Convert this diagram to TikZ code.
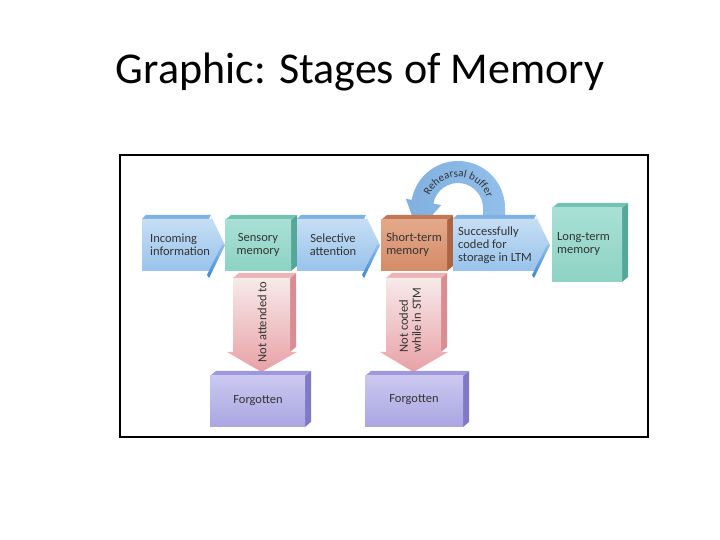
\documentclass[tikz,border=0pt]{standalone}
\usepackage{fontspec}
\setmainfont{Carlito}
\usetikzlibrary{decorations.text}

\definecolor{bluehi}{HTML}{CCE2F6}
\definecolor{bluelo}{HTML}{92BFEA}
\definecolor{bluetop}{HTML}{7FB2E3}
\definecolor{bluedark}{HTML}{3D86CF}
\definecolor{tealhi}{HTML}{A9E0D5}
\definecolor{teallo}{HTML}{8CD3C4}
\definecolor{tealtop}{HTML}{74C2B2}
\definecolor{tealside}{HTML}{55A898}
\definecolor{orangehi}{HTML}{E3A98A}
\definecolor{orangelo}{HTML}{D48B68}
\definecolor{orangetop}{HTML}{C47755}
\definecolor{orangeside}{HTML}{AE6443}
\definecolor{pinkhi}{HTML}{F7EAEA}
\definecolor{pinklo}{HTML}{E8A1A6}
\definecolor{pinkside}{HTML}{D98C92}
\definecolor{purplehi}{HTML}{CBC8F0}
\definecolor{purplelo}{HTML}{A9A5E1}
\definecolor{purpletop}{HTML}{9E99DC}
\definecolor{purpleside}{HTML}{7F79C6}

\tikzset{
  lbl/.style={font=\fontsize{12.5}{13}\selectfont, text=black!80, align=left, inner sep=0pt},
}

% 3d block: lower left (#1,#2), upper right (#3,#4), colour #5
\newcommand{\memblock}[5]{%
  \fill[#5side] (#3,#2) -- ++(6,5) -- (#3+6,#4+5) -- (#3,#4) -- cycle;
  \fill[#5top] (#1,#4) -- ++(6,5) -- (#3+6,#4+5) -- (#3,#4) -- cycle;
  \shade[top color=#5hi, bottom color=#5lo] (#1,#2) rectangle (#3,#4);
}

% flat blue arrow: body from #1 to #2, tip at #3
\newcommand{\flowarrow}[3]{%
  \fill[bluetop] (#1,321) -- (#1+4,325) -- (#2-1,325) -- (#2-3,321) -- cycle;
  \shade[top color=bluehi, bottom color=bluelo]
    (#1,269) -- (#2,269) -- (#2-3,262) -- (#3,295) -- (#2-3,328) -- (#2,321) -- (#1,321) -- cycle;
  \shade[top color=bluelo, bottom color=bluedark] (#3,295) -- (#2-3,262) -- (#2-5,265) -- (#3-3,295) -- cycle;
}

% pink arrow going down: body from #1 to #2
\newcommand{\droparrow}[2]{%
  \fill[pinkside] (#2,188) -- (#2+6,193) -- (#2+6,267) -- (#2,262) -- cycle;
  \fill[pinklo!80!white] (#1,262) -- (#1+6,267) -- (#2+6,267) -- (#2,262) -- cycle;
  \shade[top color=pinkhi, bottom color=pinklo]
    (#1,262) -- (#1,188) -- (#1-6,188) -- ({(#1+#2)/2},168) -- (#2+7,188) -- (#2,188) -- (#2,262) -- cycle;
}

\begin{document}
\begin{tikzpicture}[x=1pt,y=1pt]
\useasboundingbox (0,0) rectangle (720,540);

\node[font=\fontsize{44}{50}\selectfont, anchor=base] (title) at (360,456) {Graphic: Stages of Memory};

\draw[line width=1.5pt] (120,103) rectangle (648,385);

% rehearsal loop
\coordinate (rehC) at (458,332);
\shade[left color=bluedark!65!white, right color=bluelo]
  ([shift={(25,-12)}]rehC) -- ([shift={(47,-12)}]rehC) -- ([shift={(0:47)}]rehC)
  arc[start angle=0,end angle=170,radius=47]
  -- ([shift={(170:53)}]rehC) -- ([shift={(-40.2,-23.3)}]rehC)
  -- ([shift={(170:17)}]rehC) -- ([shift={(170:25)}]rehC)
  arc[start angle=170,end angle=0,radius=25] -- cycle;
\path[decorate, decoration={text along path, text align=center,
  text={|\fontsize{11}{11}\selectfont\color{black!80}|Rehearsal buffer}}]
  ([shift={(172:31)}]rehC) arc[start angle=172,end angle=4,radius=31];

% top row
\flowarrow{142}{212}{225}
\memblock{225}{269}{291}{320}{teal}
\flowarrow{297}{367}{380}
\memblock{381}{269}{447}{320}{orange}
\flowarrow{453}{537}{550}
\memblock{552}{258}{622}{332}{teal}

\node[lbl, anchor=west] (incoming) at (150,295) {Incoming\\information};
\node[lbl, align=center] (sensory) at (258,295) {Sensory\\memory};
\node[lbl, align=center] (selective) at (333,295) {Selective\\attention};
\node[lbl] (stm) at (414,295) {Short-term\\memory};
\node[lbl, anchor=west] (coded) at (458,295) {Successfully\\coded for\\storage in LTM};
\node[lbl, anchor=west] (ltm) at (557,296) {Long-term\\memory};

% dropped items
\droparrow{233}{290}
\droparrow{386}{441}
\memblock{210}{113}{305}{164}{purple}
\memblock{365}{113}{463}{164}{purple}

\node[lbl, rotate=90] (notatt) at (262,218) {Not attended to};
\node[lbl, rotate=90] (notcoded) at (410,220) {Not coded\\while in STM};
\node[lbl] (forgot1) at (258,139) {Forgotten};
\node[lbl] (forgot2) at (414,140) {Forgotten};
\end{tikzpicture}
\end{document}
